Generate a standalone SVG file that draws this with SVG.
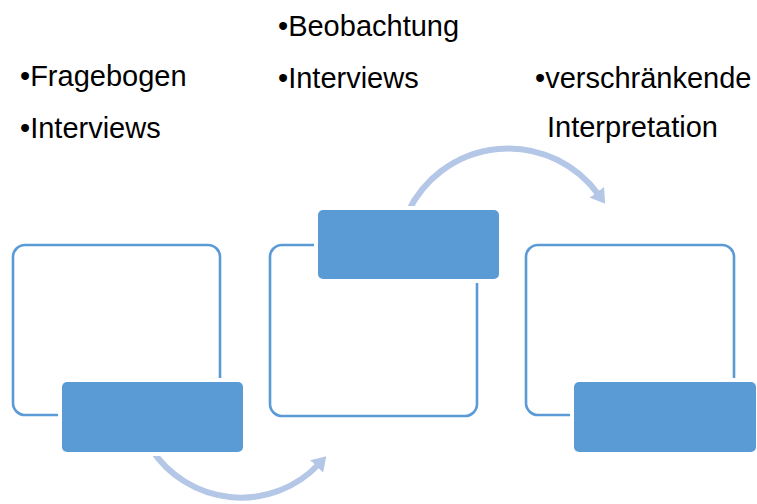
<svg xmlns="http://www.w3.org/2000/svg" width="757" height="504" viewBox="0 0 757 504">
  <style>
    .frame { fill: none; stroke: #5B9BD5; stroke-width: 2.6; }
    .tab { fill: #5B9BD5; stroke: #FFFFFF; stroke-width: 8; paint-order: stroke; }
    .flow { fill: none; stroke: #B4C7E7; stroke-width: 6; }
    .label { font-family: "Liberation Sans", Arial, sans-serif; font-size: 29px; fill: #000000; }
  </style>
  <defs>
    <marker id="head" markerUnits="userSpaceOnUse" viewBox="0 0 14 18" markerWidth="14" markerHeight="18" refX="2" refY="9" orient="auto">
      <path d="M0,0 L14,9 L0,18 z" fill="#B4C7E7"/>
    </marker>
  </defs>
  <rect width="757" height="504" fill="#FFFFFF"/>

  <!-- curved arrows between the stages -->
  <g id="connectors">
    <path class="flow" d="M152,450 A107,107 0 0 0 318,465" marker-end="url(#head)"/>
    <path class="flow" d="M408,212 A111,111 0 0 1 598,194" marker-end="url(#head)"/>
  </g>

  <!-- stage 1 -->
  <g id="stage1">
    <rect class="frame" x="13" y="245" width="207" height="170" rx="12"/>
    <rect class="tab" x="62" y="382" width="181" height="70" rx="5"/>
    <text class="label" x="20" y="86">•Fragebogen</text>
    <text class="label" x="20" y="138">•Interviews</text>
  </g>

  <!-- stage 2 -->
  <g id="stage2">
    <rect class="frame" x="270" y="245" width="207" height="171" rx="12"/>
    <rect class="tab" x="318" y="210" width="181" height="69" rx="5"/>
    <text class="label" x="278" y="36">•Beobachtung</text>
    <text class="label" x="278" y="88">•Interviews</text>
  </g>

  <!-- stage 3 -->
  <g id="stage3">
    <rect class="frame" x="526" y="245" width="208" height="170" rx="12"/>
    <rect class="tab" x="574" y="382" width="182" height="70" rx="5"/>
    <text class="label" x="535" y="88">•verschränkende</text>
    <text class="label" x="547" y="137">Interpretation</text>
  </g>
</svg>
